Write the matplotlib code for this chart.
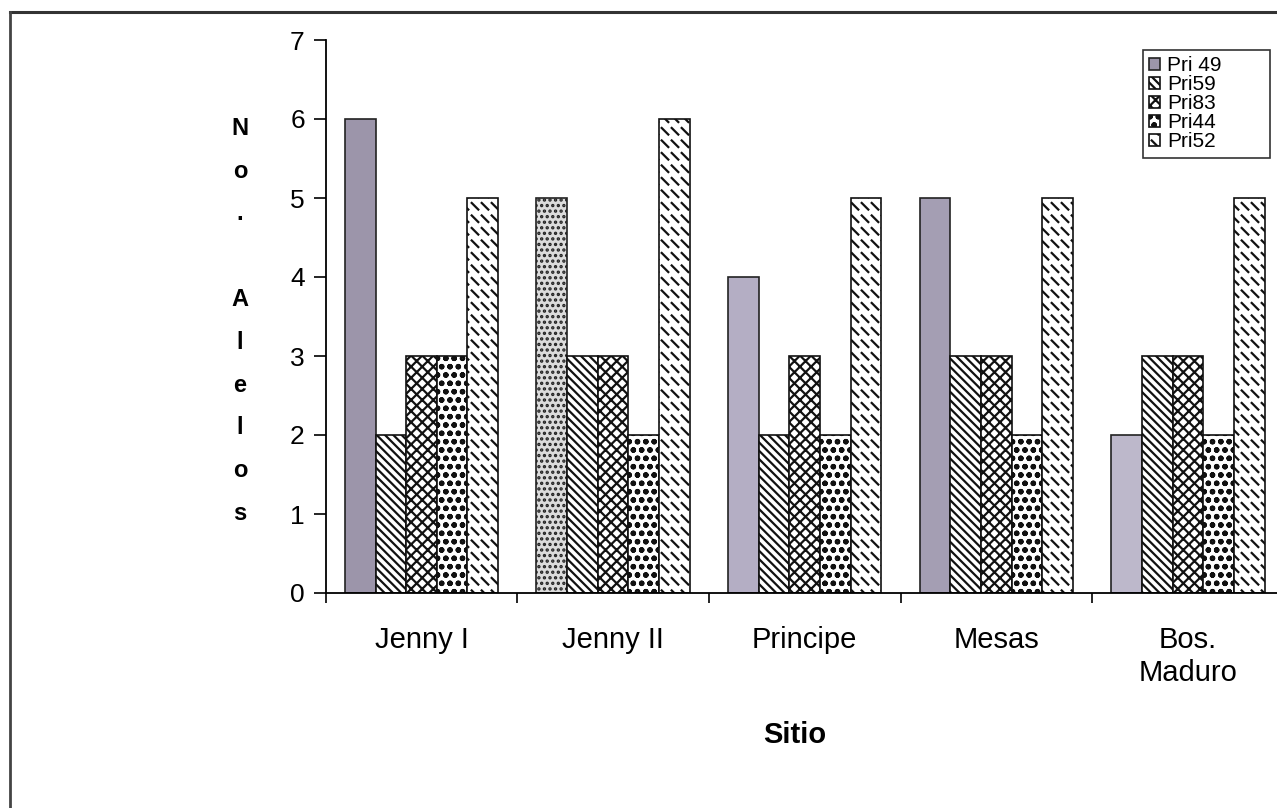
import numpy as np
import matplotlib
matplotlib.use("Agg")
import matplotlib.pyplot as plt
import matplotlib.hatch as mhatch
from matplotlib.lines import Line2D
from matplotlib.path import Path

sitios = ["Jenny I", "Jenny II", "Principe", "Mesas", "Bos.\nMaduro"]
series = ["Pri 49", "Pri59", "Pri83", "Pri44", "Pri52"]
pri49 = [6, 5, 4, 5, 2]
pri59 = [2, 3, 2, 3, 3]
pri83 = [3, 3, 3, 3, 3]
pri44 = [3, 2, 2, 2, 2]
pri52 = [5, 6, 5, 5, 5]
yticks = [0, 1, 2, 3, 4, 5, 6, 7]


# short diagonal dashes hatch (Excel "dashed downward diagonal"), put in place of '*'
class DashHatch(mhatch.HatchPatternBase):
    def __init__(self, hatch, density):
        n = hatch.count("*")
        self.nx = 10 * n
        self.ny = 8 * n
        self.num_vertices = self.nx * self.ny * 2

    def set_vertices_and_codes(self, vertices, codes):
        a = 0.033
        k = 0
        for j in range(self.ny):
            for i in range(self.nx):
                cx = (i + 0.5) / self.nx
                cy = (j + 0.5) / self.ny
                vertices[k] = (cx - a, cy + a)
                vertices[k + 1] = (cx + a, cy - a)
                codes[k] = Path.MOVETO
                codes[k + 1] = Path.LINETO
                k += 2


mhatch._hatch_types = [t for t in mhatch._hatch_types if t is not mhatch.Stars] + [DashHatch]

plt.rcParams["font.family"] = ["Liberation Sans", "DejaVu Sans"]
plt.rcParams["hatch.linewidth"] = 1.6

fig = plt.figure(figsize=(12.77, 8.08), dpi=100)
ax = fig.add_axes([325.7 / 1277, 1 - 593 / 808, 5 * 191.6 / 1277, 553 / 808])

x = np.arange(len(sitios))
w = 0.16
face49 = ["#9c95aa", "#dcdcdc", "#b4aec4", "#a49eb3", "#bdb8cb"]
hatch49 = ["", "...", "", "", ""]

for i in range(len(sitios)):
    ax.bar(x[i] - 2 * w, pri49[i], w, color=face49[i], hatch=hatch49[i],
           edgecolor="#222222", linewidth=1.2, label=series[0] if i == 0 else None)
ax.bar(x - w, pri59, w, color="white", hatch="\\\\\\\\", edgecolor="#111111", linewidth=1.2, label=series[1])
ax.bar(x, pri83, w, color="white", hatch="xxx", edgecolor="#111111", linewidth=1.2, label=series[2])
ax.bar(x + w, pri44, w, color="white", hatch="oo", edgecolor="#111111", linewidth=1.2, label=series[3])
ax.bar(x + 2 * w, pri52, w, color="white", hatch="*", edgecolor="#111111", linewidth=1.2, label=series[4])

ax.set_xlim(-0.5, len(sitios) - 0.5)
ax.set_ylim(0, 7)
ax.set_yticks(yticks)
ax.set_xticks(x)
ax.set_xticklabels(sitios, fontsize=21)
ax.set_xticks(np.arange(len(sitios) + 1) - 0.5, minor=True)
ax.tick_params(axis="x", which="major", length=0, pad=24)
ax.tick_params(axis="x", which="minor", length=7, width=1.2, direction="out")
ax.tick_params(axis="y", length=9, width=1.2, direction="out", labelsize=19, pad=6)

for s in ["top", "right"]:
    ax.spines[s].set_visible(False)
ax.spines["left"].set_linewidth(1.3)
ax.spines["bottom"].set_linewidth(1.3)

# stacked y label
fig.text(240 / 1277, 1 - 321 / 808, "\n".join("No. Alelos"), fontsize=17, fontweight="bold",
         ha="center", va="center", multialignment="center", linespacing=2.1)
fig.text(795 / 1277, 1 - 735 / 808, "Sitio", fontsize=21, fontweight="bold",
         ha="center", va="center")

leg = fig.legend(loc="upper left", mode="expand",
                 bbox_to_anchor=(1143 / 1277, 1 - 152 / 808, 127 / 1277, 102 / 808), fontsize=15,
                 frameon=True, fancybox=False, edgecolor="black", handlelength=0.5,
                 handleheight=0.5, handletextpad=0.35, labelspacing=0.0, borderpad=0.3,
                 borderaxespad=0)
leg.get_frame().set_linewidth(1.2)

# outer frame of the scanned chart
fig.add_artist(Line2D([10 / 1277, 1], [1 - 12 / 808, 1 - 12 / 808], color="#333333", lw=2.2))
fig.add_artist(Line2D([10 / 1277, 10 / 1277], [0, 1 - 12 / 808], color="#444444", lw=2.0))

fig.savefig("out.png", dpi=100)
